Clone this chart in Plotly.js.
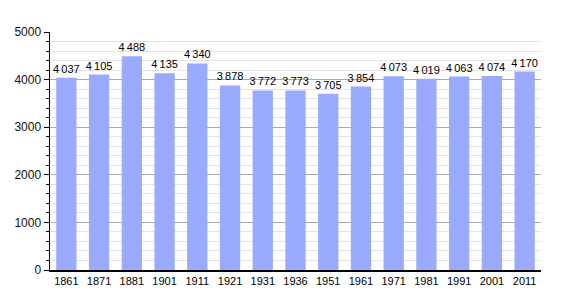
<!DOCTYPE html>
<html><head><meta charset="utf-8">
<script src="https://cdn.plot.ly/plotly-3.0.1.min.js"></script>
<style>body{margin:0}#c{width:570px;height:300px}</style>
</head><body><div id="c"></div>
<script>
const years = ["1861","1871","1881","1901","1911","1921","1931","1936","1951","1961","1971","1981","1991","2001","2011"];
const population = [4037,4105,4488,4135,4340,3878,3772,3773,3705,3854,4073,4019,4063,4074,4170];
const labels = population.map(v => String(v).replace(/\B(?=(\d{3})+(?!\d))/g, "\u2009"));

Plotly.newPlot("c", [{
  type: "bar", x: years, y: population, text: labels,
  textposition: "outside", cliponaxis: false, constraintext: "none",
  textfont: {family: "Liberation Sans, Arial, sans-serif", size: 11, color: "#000"},
  marker: {color: "#99aaff"}, width: 0.62, hoverinfo: "none"
}], {
  width: 570, height: 300,
  margin: {l: 50, r: 29, t: 32, b: 30},
  paper_bgcolor: "#fff", plot_bgcolor: "#fff",
  showlegend: false,
  font: {family: "Liberation Sans, Arial, sans-serif", size: 11, color: "#000"},
  xaxis: {type: "category", showline: true, linecolor: "#000", linewidth: 1.5,
    ticks: "", showgrid: false, tickfont: {size: 11, color: "#000"}, fixedrange: true},
  yaxis: {range: [0, 5000], dtick: 1000, showline: true, linecolor: "#000", linewidth: 1.5,
    ticks: "outside", ticklen: 5, tickcolor: "#000", tickfont: {size: 12, color: "#111"},
    gridcolor: "#aaaaaa", gridwidth: 1, zeroline: false,
    minor: {dtick: 200, ticks: "outside", ticklen: 3, tickcolor: "#000", showgrid: true, gridcolor: "#e4e4e4", gridwidth: 1},
    fixedrange: true}
}, {staticPlot: true});
</script></body></html>
